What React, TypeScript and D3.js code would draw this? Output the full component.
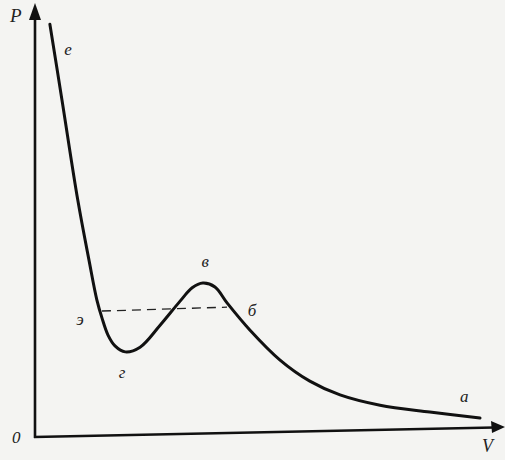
import React from "react";
import * as d3 from "d3";

const volumes = [0.32, 0.58, 0.92, 1.16, 1.33, 1.44, 1.57, 1.72, 1.94, 2.26, 2.69, 3.12, 3.38, 3.61, 3.87, 4.13, 4.62, 5.27, 5.91, 6.56, 7.42, 8.49, 9.57];
const pressures = [9.53, 7.77, 5.44, 4.05, 3.12, 2.7, 2.3, 2.05, 1.91, 2.02, 2.53, 3.09, 3.4, 3.51, 3.42, 3.05, 2.42, 1.72, 1.23, 0.91, 0.67, 0.51, 0.37];
const dashV = [1.44, 4.13];
const dashP = [2.86, 2.95];
const pointLabels = ["е", "э", "г", "в", "б", "а"];
const labelV = [0.71, 0.97, 1.87, 3.66, 4.67, 9.23];
const labelP = [8.81, 2.53, 1.3, 3.88, 2.74, 0.74];

export default function App() {
  const W = 505, H = 460;
  const x = d3.scaleLinear().domain([0, 10]).range([35, 500]);
  const y = d3.scaleLinear().domain([0, 10]).range([434, 4]);
  const data = volumes.map((v, i) => [v, pressures[i]] as [number, number]);
  const line = d3.line<[number, number]>().x(d => x(d[0])).y(d => y(d[1])).curve(d3.curveCatmullRom.alpha(0.5));
  const font = "'Liberation Serif', 'DejaVu Serif', serif";
  return (
    <svg width={W} height={H} style={{ position: "absolute", left: 0, top: 0, background: "#f4f4f2" }}>
      {/* axes */}
      <line x1={x(0)} y1={438} x2={x(0)} y2={16} stroke="#111" strokeWidth={2.6} />
      <polygon points={`${x(0)},3 ${x(0) - 6},20 ${x(0) + 6},20`} fill="#111" />
      <line x1={x(0) - 1} y1={437} x2={494} y2={427.5} stroke="#111" strokeWidth={2.6} />
      <polygon points={`505,427 491,421 492,433`} fill="#111" />
      {/* dashed */}
      <line x1={x(dashV[0])} y1={y(dashP[0])} x2={x(dashV[1])} y2={y(dashP[1])} stroke="#222" strokeWidth={1.3} strokeDasharray="9,6" />
      {/* curve */}
      <path d={line(data) || ""} fill="none" stroke="#111" strokeWidth={3} strokeLinecap="round" />
      {/* axis labels */}
      <text x={10} y={22} fontFamily={font} fontStyle="italic" fontSize={19} fill="#222">P</text>
      <text x={12} y={443} fontFamily={font} fontStyle="italic" fontSize={17} fill="#222">0</text>
      <text x={482} y={452} fontFamily={font} fontStyle="italic" fontSize={18} fill="#222">V</text>
      {pointLabels.map((t, i) => (
        <text key={i} x={x(labelV[i])} y={y(labelP[i])} fontFamily={font} fontStyle="italic" fontSize={17} fill="#222" textAnchor="middle">{t}</text>
      ))}
    </svg>
  );
}
